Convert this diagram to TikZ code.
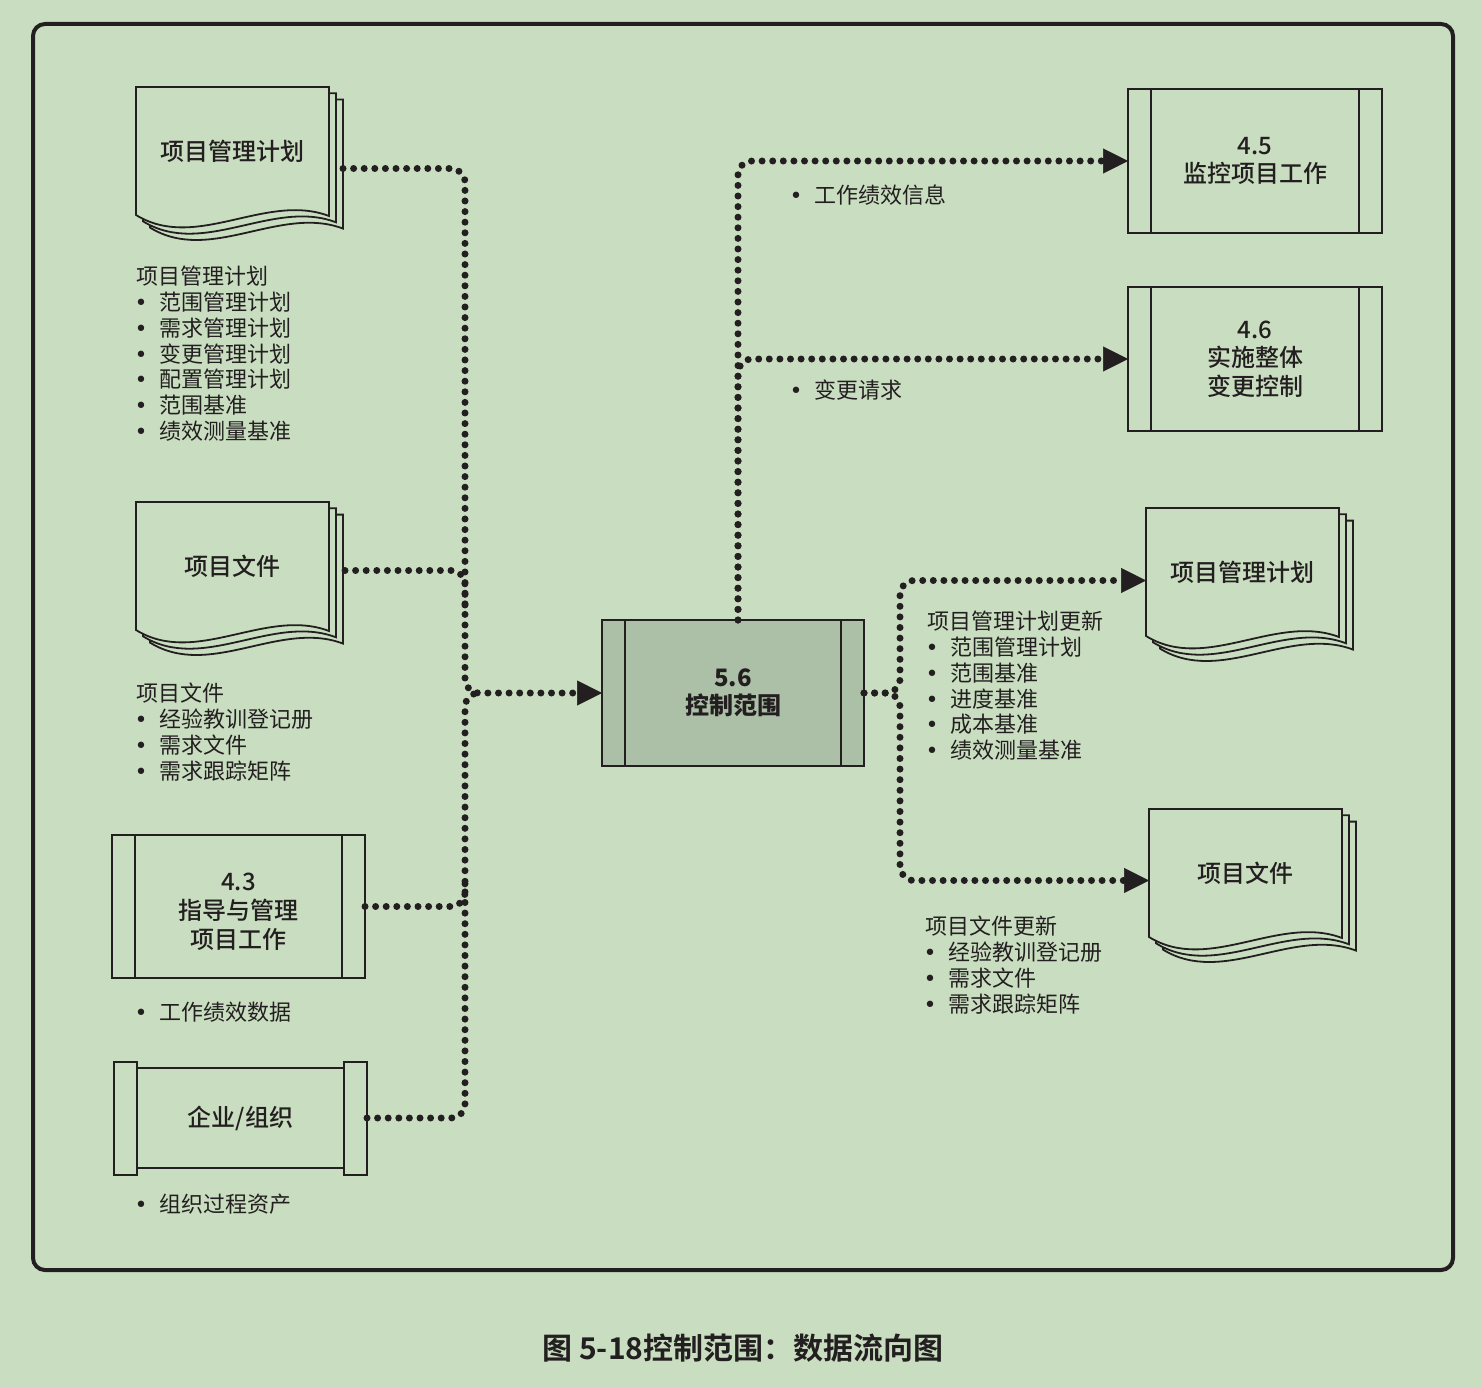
\documentclass[tikz,border=0pt]{standalone}
\usepackage{fontspec}
\setmainfont{Noto Sans CJK SC}[BoldFont={Noto Sans CJK SC Bold}]
\newfontfamily\medfont{Noto Sans CJK SC Medium}
\newfontfamily\symfont{DejaVu Sans}
\usetikzlibrary{arrows.meta}
\definecolor{bg}{RGB}{201,222,192}
\definecolor{mid}{RGB}{172,192,167}
\definecolor{ink}{RGB}{35,31,32}
\newcommand{\listfont}{\fontsize{22}{25.8}\selectfont}
\newcommand{\boxfont}{\medfont\fontsize{24}{28.5}\selectfont}
\newcommand{\bul}{\makebox[23pt][l]{\hspace{-1.5pt}{\symfont •}}}
\newcommand{\makedoc}[4]{
	\begin{scope}[shift={(#2,#3)}]
	\foreach \d in {14,7,0} {
		\draw[page] (\d,\d*0.9) -- (193+\d,\d*0.9) -- (193+\d,129+\d*0.9)
			.. controls (130+\d,105+\d*0.9) and (60+\d,165+\d*0.9) .. (\d,128+\d*0.9) -- cycle;
	}
	\node[doctext] (#1) at (96.5,64.5) {#4};
	\end{scope}
}
\tikzset{
	page/.style={draw=ink, fill=bg, line width=1.8pt, line join=miter},
	doctext/.style={minimum width=193pt, minimum height=129pt, inner sep=0pt, outer sep=0pt, text=ink, font=\boxfont},
	proc/.style={draw=ink, line width=2pt, fill=bg, minimum width=254pt, minimum height=144pt,
		inner sep=0pt, outer sep=0pt, align=center, text=ink, font=\boxfont,
		append after command={
			([xshift=23pt]\tikzlastnode.north west) edge[draw=ink, line width=2pt] ([xshift=23pt]\tikzlastnode.south west)
			([xshift=-23pt]\tikzlastnode.north east) edge[draw=ink, line width=2pt] ([xshift=-23pt]\tikzlastnode.south east)}},
	bar/.style={draw=ink, fill=bg, line width=2pt},
	list/.style={anchor=north west, inner sep=0pt, align=left, text=ink, font=\listfont},
	flowline/.style={draw=ink, line width=7pt, line cap=round, dash pattern=on 0pt off 10.6pt, rounded corners=14pt},
	flow/.style={flowline, -{Triangle[length=25pt, width=25pt, line width=0.5pt]}},
}

\begin{document}
\begin{tikzpicture}[x=1pt,y=-1pt]
	\fill[bg] (0,0) rectangle (1482,1388);
	\useasboundingbox (0,0) rectangle (1482,1388);
	\draw[ink, line width=4pt, rounded corners=12pt] (33,24) rectangle (1453,1270);

	% inputs
	\makedoc{pmp}{136}{87}{项目管理计划}
	\makedoc{pd}{136}{502}{项目文件}
	\node[proc, minimum width=253pt, minimum height=143pt] (p43) at (238.5,906.5)
		{\raisebox{-7pt}[\height][\depth]{\begin{tabular}{@{}c@{}}4.3\\指导与管理\\项目工作\end{tabular}}};
	\node[bar, minimum width=253pt, minimum height=100pt, inner sep=0pt, outer sep=0pt, text=ink, font=\boxfont] (org) at (240.5,1118) {企业/组织};
	\draw[bar] ([yshift=6.5pt]org.north west) rectangle ([xshift=23pt,yshift=-6.5pt]org.south west);
	\draw[bar] ([xshift=-23pt,yshift=6.5pt]org.north east) rectangle ([yshift=-6.5pt]org.south east);

	\node[list] (l-pmp) at (136,266) {项目管理计划\\\bul 范围管理计划\\\bul 需求管理计划\\\bul 变更管理计划\\\bul 配置管理计划\\\bul 范围基准\\\bul 绩效测量基准};
	\node[list] (l-pd) at (136,683) {项目文件\\\bul 经验教训登记册\\\bul 需求文件\\\bul 需求跟踪矩阵};
	\node[list] (l-wpd) at (136,1002) {\bul 工作绩效数据};
	\node[list] (l-opa) at (136,1194) {\bul 组织过程资产};

	% process
	\node[proc, fill=mid, minimum width=262pt, minimum height=146pt, font=\boxfont\bfseries] (c56) at (733,693) {5.6\\控制范围};

	% outputs
	\node[proc] (p45) at (1255,161) {4.5\\监控项目工作};
	\node[proc] (p46) at (1255,359) {4.6\\实施整体\\变更控制};
	\makedoc{pmpu}{1146}{508}{项目管理计划}
	\makedoc{pdu}{1149}{809}{项目文件}

	\node[list] (l-wpi) at (791,185) {\bul 工作绩效信息};
	\node[list] (l-cr) at (791,380) {\bul 变更请求};
	\node[list] (l-pmpu) at (927,611) {项目管理计划更新\\\bul 范围管理计划\\\bul 范围基准\\\bul 进度基准\\\bul 成本基准\\\bul 绩效测量基准};
	\node[list] (l-pdu) at (925,916) {项目文件更新\\\bul 经验教训登记册\\\bul 需求文件\\\bul 需求跟踪矩阵};

	% flows
	\coordinate (jl) at (465,693);
	\coordinate (jl2) at (482,693);
	\coordinate (jd) at (465,610);
	\coordinate (jw) at (465,875);
	\coordinate (jr) at (900,693);

	\draw[flow] ([shift={(14,17)}]pmp.east) -| (jl) -- (c56.west);
	\draw[flowline] ([shift={(16,4)}]pd.east) -| (jd);
	\draw[flowline] (p43.east) -| (jw);
	\draw[flowline] (org.east) -| (jl) -- (jl2);

	\draw[flow] ([xshift=5pt]c56.north) |- (p45.west);
	\draw[flow] ([xshift=5pt]c56.north) |- (p46.west);
	\draw[flow] (c56.east) -- (jr) |- ([shift={(0,8)}]pmpu.west);
	\draw[flow] (c56.east) -- (jr) |- ([shift={(0,7)}]pdu.west);

	\node[text=ink, font=\fontsize{30}{34}\selectfont\bfseries] (cap) at (743,1348) {图 5-18控制范围：数据流向图};
\end{tikzpicture}
\end{document}
